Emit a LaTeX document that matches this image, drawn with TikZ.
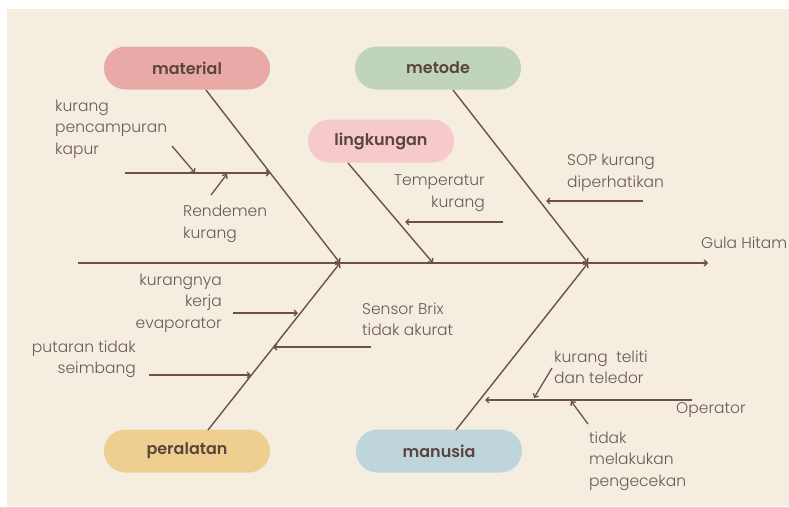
\documentclass[tikz,border=0pt]{standalone}
\usepackage{fontspec}
\setmainfont{Poppins}[UprightFont=* Light, BoldFont=* SemiBold]
\usetikzlibrary{arrows.meta}
\definecolor{bg}{HTML}{F4EDE0}
\definecolor{ln}{HTML}{6E5049}
\definecolor{tx}{HTML}{6A5A55}
\definecolor{lb}{HTML}{5A443E}
\definecolor{cmat}{HTML}{E9A9A7}
\definecolor{cmet}{HTML}{BFD4B8}
\definecolor{cling}{HTML}{F6CACA}
\definecolor{cper}{HTML}{EFCF90}
\definecolor{cman}{HTML}{BFD5DC}
\tikzset{
  pill/.style={draw=none, rounded corners=21.5pt, minimum height=43pt, inner sep=0pt,
    text=lb, font=\fontsize{16}{18}\selectfont\bfseries},
  bone/.style={draw=ln, line width=1.4pt, -{Straight Barb[length=3pt,width=6pt]}},
  sub/.style={draw=ln, line width=1.3pt, -{Straight Barb[length=3pt,width=6pt]}},
  lbl/.style={text=tx, inner sep=0pt, font=\fontsize{15.5}{21.5}\selectfont},
}
\begin{document}
\begin{tikzpicture}[x=1pt, y=-1pt]
\useasboundingbox (0,0) rectangle (789,506);
\fill[white] (0,0) rectangle (789,506);
\fill[bg] (7,9) rectangle (789,506);

% category boxes
\node[pill, fill=cmat, minimum width=166pt] (material) at (187,68) {material};
\node[pill, fill=cmet, minimum width=166pt] (metode) at (438,68) {metode};
\node[pill, fill=cling, minimum width=146pt] (lingkungan) at (381,141) {lingkungan};
\node[pill, fill=cper, minimum width=166pt] (peralatan) at (187,451) {peralatan};
\node[pill, fill=cman, minimum width=166pt] (manusia) at (439,451) {manusia};

% spine
\coordinate (tail) at (78,263);
\coordinate (head) at (708,263);
\draw[bone] (tail) -- (head);
\node[lbl, anchor=west] (gula) at (701,243) {Gula Hitam};

% bone joints
\coordinate (jm) at (340,263);
\coordinate (jl) at (433,263);
\coordinate (jt) at (588,263);
\coordinate (m0) at (206,90);
\coordinate (t0) at (453,90);
\coordinate (l0) at (348,163);
\coordinate (p0) at (208,430);
\coordinate (u0) at (456,430);
\draw[bone] (m0) -- (jm);
\draw[bone] (t0) -- (jt);
\draw[bone] (l0) -- (jl);
\draw[bone] (p0) -- (jm);
\draw[bone] (u0) -- (jt);

% material causes
\coordinate (ma) at (125,173);
\coordinate (mb) at (270,173);
\draw[sub] (ma) -- (mb);
\node[lbl, anchor=west, align=left] (kpk) at (55,129) {kurang\\pencampuran\\kapur};
\coordinate (k1) at (172,146);
\coordinate (k2) at (195,173);
\draw[sub] (k1) -- (k2);
\node[lbl, anchor=west, align=left] (rend) at (183,224) {Rendemen\\kurang};
\coordinate (r1) at (211,195);
\coordinate (r2) at (227,174);
\draw[sub] (r1) -- (r2);

% lingkungan
\node[lbl, anchor=east, align=right] (temp) at (485,193) {Temperatur\\kurang};
\coordinate (la) at (503,222);
\coordinate (lb) at (405,222);
\draw[sub] (la) -- (lb);

% metode
\node[lbl, anchor=west, align=left] (sop) at (567,173) {SOP kurang\\diperhatikan};
\coordinate (sa) at (643,201);
\coordinate (sb) at (546,201);
\draw[sub] (sa) -- (sb);

% peralatan
\node[lbl, anchor=east, align=right] (evap) at (222,303) {kurangnya\\kerja\\evaporator};
\coordinate (ea) at (233,313);
\coordinate (eb) at (298,313);
\draw[sub] (ea) -- (eb);
\node[lbl, anchor=east, align=right] (put) at (136,359) {putaran tidak\\seimbang};
\coordinate (pa) at (149,375);
\coordinate (pb) at (251,375);
\draw[sub] (pa) -- (pb);
\node[lbl, anchor=west, align=left] (brix) at (362,319) {Sensor Brix\\tidak akurat};
\coordinate (ba) at (371,347);
\coordinate (bb) at (273,347);
\draw[sub] (ba) -- (bb);

% manusia
\coordinate (oa) at (692,400);
\coordinate (ob) at (485,400);
\draw[sub] (oa) -- (ob);
\node[lbl, anchor=west] (oper) at (676,410) {Operator};
\node[lbl, anchor=west, align=left] (tel) at (554,367) {kurang\ \ teliti\\dan teledor};
\coordinate (t1) at (552,368);
\coordinate (t2) at (534,398);
\draw[sub] (t1) -- (t2);
\node[lbl, anchor=west, align=left] (cek) at (589,461) {tidak\\melakukan\\pengecekan};
\coordinate (c1) at (588,424);
\coordinate (c2) at (571,401);
\draw[sub] (c1) -- (c2);
\end{tikzpicture}
\end{document}
